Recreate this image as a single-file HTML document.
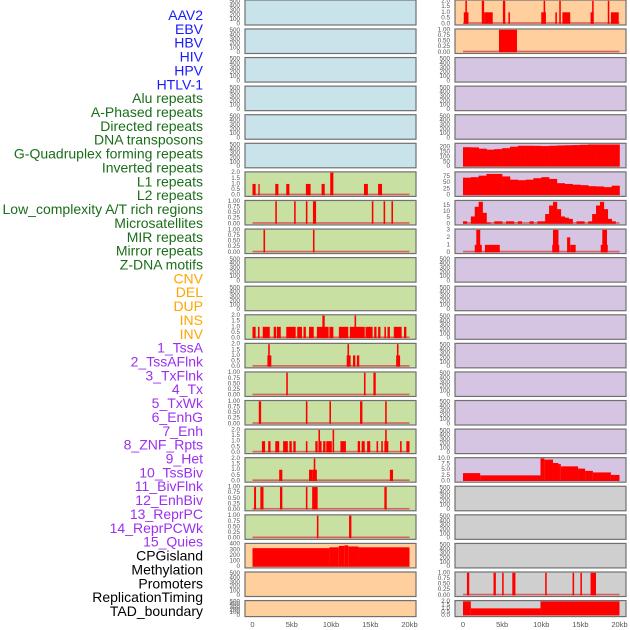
<!DOCTYPE html>
<html><head><meta charset="utf-8"><style>
html,body{margin:0;padding:0;background:#fff;width:630px;height:630px;overflow:hidden}
svg{display:block}
</style></head><body>
<svg id="chart" width="630" height="630" xmlns="http://www.w3.org/2000/svg" font-family="Liberation Sans, sans-serif"></svg>
<script>
const trackLabels=["AAV2","EBV","HBV","HIV","HPV","HTLV-1","Alu repeats","A-Phased repeats","Directed repeats","DNA transposons","G-Quadruplex forming repeats","Inverted repeats","L1 repeats","L2 repeats","Low_complexity A/T rich regions","Microsatellites","MIR repeats","Mirror repeats","Z-DNA motifs","CNV","DEL","DUP","INS","INV","1_TssA","2_TssAFlnk","3_TxFlnk","4_Tx","5_TxWk","6_EnhG","7_Enh","8_ZNF_Rpts","9_Het","10_TssBiv","11_BivFlnk","12_EnhBiv","13_ReprPC","14_ReprPCWk","15_Quies","CPGisland","Methylation","Promoters","ReplicationTiming","TAD_boundary"];
const labelGroups=[6,13,5,15,5];
const groupColors=["#1a1aff","#1a6e1a","#ffa500","#9b30f0","#000000"];
const xTicks=[0,5,10,15,20];
const xTickLabels=["0","5kb","10kb","15kb","20kb"];
const ticksEmpty=[0,100,200,300,400,500];
const ticks2=[0,0.5,1,1.5,2];
const ticks1=[0,0.25,0.5,0.75,1];
// segments: [startKb, endKb, value]
const segR0=[[0.1,0.7,1],[0.3,0.5,2],[2.4,2.7,2],[2.7,3.8,1],[5.1,5.4,2],[5.8,6.0,1],[10.0,10.6,1],[10.3,10.5,2],[11.8,12.0,1],[12.3,12.5,2],[12.7,13.7,1],[16.3,16.7,1],[16.5,16.7,2],[18.5,18.7,2],[18.9,19.9,1]];
const segR1=[[4.6,6.9,1]];
const binsR5=[200,198,185,175,180,190,205,215,215,214,212,215,218,220,222,225,228,228,228,228];
const segL6=[[0,0.4,1],[0.75,0.9,1],[2.9,3.3,1],[4.3,4.7,1],[6.8,7.4,1],[8.8,9.2,1],[9.9,10.3,2],[14.2,14.7,1],[16.0,16.5,1]];
const binsR6=[70,72,78,85,85,75,62,60,62,68,72,65,48,45,42,40,36,35,32,38];
const segL7=[[2.9,3.1,1],[5.3,5.5,1],[6.8,7.0,1],[7.7,8.1,1],[15.2,15.4,1],[16.7,16.9,1],[17.7,17.9,1]];
const binsR7=[2,0,6,14,18,9,1,0,2,2,0,2,2,0,2,0,0,2,0,2,2,8,15,18,12,6,5,4,0,2,2,0,2,8,15,18,12,4,2,0];
const segL8=[[1.4,1.6,1],[7.7,7.9,1]];
const segR8=[[1.5,2.4,1],[1.7,2.2,3],[2.8,4.7,1],[11.4,12.3,1],[11.5,12.2,3],[13.3,13.7,2],[13.7,14.4,1],[17.6,18.5,1],[17.8,18.4,3]];
const segL11=[[0,0.4,1],[0.7,0.9,1],[1.3,2.2,1],[2.7,3.0,1],[3.1,3.6,1],[4.3,5.5,1],[5.7,6.3,1],[6.5,6.8,1],[7.2,7.8,1],[8.2,9.7,1],[8.9,9.2,2],[9.8,10.3,1],[11.0,12.2,1],[12.4,14.3,1],[13.0,13.2,2],[14.4,15.3,1],[15.5,15.8,1],[16.0,16.3,1],[16.8,17.0,1],[17.2,17.5,1],[18.0,19.0,1],[19.3,19.6,1]];
const segL12=[[1.9,2.4,1],[2.0,2.2,2],[12.0,12.5,1],[12.1,12.3,2],[12.8,13.1,1],[13.3,13.6,1],[18.3,18.8,1],[18.4,18.6,2]];
const segL13=[[4.3,4.5,1],[14.2,14.4,1],[15.4,15.7,1]];
const segL14=[[0.8,1.1,1],[6.8,7.0,1],[9.8,10.0,1],[13.7,14.0,1],[16.9,17.1,1]];
const segL15=[[1.2,1.6,1],[2.0,2.3,1],[2.9,3.4,1],[3.9,4.5,1],[4.7,5.0,1],[5.2,5.5,1],[6.8,7.0,1],[8.0,8.3,1],[8.5,8.8,1],[8.4,8.6,2],[9.0,9.3,1],[9.4,10.1,1],[10.2,10.4,2],[11.2,11.9,1],[13.4,13.7,1],[13.9,14.3,1],[14.6,15.0,1],[15.8,16.0,1],[16.4,16.6,1],[16.8,17.3,1],[16.9,17.1,2],[18.8,19.0,1],[19.6,20.0,1]];
const segL16=[[3.4,3.8,1],[7.2,7.6,1],[7.6,8.2,1],[7.8,8.0,2],[17.5,17.9,1]];
const segR16=[[0,2.2,3.5],[2.2,9.9,2.5],[9.9,10.4,10],[10.4,11.5,9.5],[11.5,12.2,8],[12.2,12.5,7.5],[12.5,14.7,6.5],[14.7,15.6,5.5],[15.6,16.6,4.5],[16.6,18.9,3.8],[18.9,20,2.7]];
const segL17=[[0.2,0.45,1],[1.0,1.4,1],[3.5,3.8,1],[6.8,7.0,1],[7.6,8.3,1],[16.8,17.1,1]];
const segL18=[[8.2,8.4,1],[12.3,12.6,1]];
const segL19=[[0,9.8,330],[9.8,11.0,345],[11.0,11.7,370],[11.7,12.2,380],[12.2,13.5,360],[13.5,20,345]];
const segR20=[[0.5,0.8,1],[3.9,4.2,1],[5.0,5.2,1],[6.3,6.7,1],[10.5,10.7,1],[14.0,14.2,1],[15.0,15.2,1],[16.3,17.0,1]];
const segR21=[[0,1,2],[1,9.9,1],[9.9,20,2]];

const C={blue:"#c8e4ea",green:"#c8e0a2",peach:"#ffd09e",lav:"#d6c5e2",gray:"#cfcfcf"};
const E=(bg)=>({bg,ticks:ticksEmpty,ymax:520});
const rows=[
 [E(C.blue),{bg:C.peach,ticks:ticks2,fmt:1,ymax:2,segs:segR0}],
 [E(C.blue),{bg:C.peach,ticks:ticks1,fmt:2,ymax:1,segs:segR1}],
 [E(C.blue),E(C.lav)],[E(C.blue),E(C.lav)],[E(C.blue),E(C.lav)],
 [E(C.blue),{bg:C.lav,ticks:[0,50,100,150,200],fmt:0,ymax:232,bins:binsR5}],
 [{bg:C.green,ticks:ticks2,fmt:1,ymax:2,segs:segL6},{bg:C.lav,ticks:[0,25,50,75],fmt:0,ymax:90,bins:binsR6}],
 [{bg:C.green,ticks:ticks1,fmt:2,ymax:1,segs:segL7},{bg:C.lav,ticks:[0,5,10,15],fmt:0,ymax:18.5,bins:binsR7}],
 [{bg:C.green,ticks:ticks1,fmt:2,ymax:1,segs:segL8},{bg:C.lav,ticks:[0,1,2,3],fmt:0,ymax:3,segs:segR8}],
 [E(C.green),E(C.lav)],[E(C.green),E(C.lav)],
 [{bg:C.green,ticks:ticks2,fmt:1,ymax:2,segs:segL11},E(C.lav)],
 [{bg:C.green,ticks:ticks2,fmt:1,ymax:2,segs:segL12},E(C.lav)],
 [{bg:C.green,ticks:ticks1,fmt:2,ymax:1,segs:segL13},E(C.lav)],
 [{bg:C.green,ticks:ticks1,fmt:2,ymax:1,segs:segL14},E(C.lav)],
 [{bg:C.green,ticks:ticks2,fmt:1,ymax:2,segs:segL15},E(C.lav)],
 [{bg:C.green,ticks:ticks2,fmt:1,ymax:2,segs:segL16},{bg:C.lav,ticks:[0,2.5,5,7.5,10],fmt:1,ymax:10,segs:segR16}],
 [{bg:C.green,ticks:ticks1,fmt:2,ymax:1,segs:segL17},E(C.gray)],
 [{bg:C.green,ticks:ticks1,fmt:2,ymax:1,segs:segL18},E(C.gray)],
 [{bg:C.peach,ticks:[0,100,200,300,400],fmt:0,ymax:400,segs:segL19},E(C.gray)],
 [E(C.peach),{bg:C.gray,ticks:ticks1,fmt:2,ymax:1,segs:segR20}],
 [E(C.peach),{bg:C.gray,ticks:ticks2,fmt:1,ymax:2,segs:segR21}]
];
const svg=document.getElementById('chart');
const NS="http://www.w3.org/2000/svg";
function mk(tag,attrs,parent){const e=document.createElementNS(NS,tag);for(const k in attrs)e.setAttribute(k,attrs[k]);(parent||svg).appendChild(e);return e;}
// labels
let gi=0,cnt=0;
trackLabels.forEach((t,i)=>{
  while(cnt>=labelGroups[gi]){cnt-=labelGroups[gi];gi++;}
  cnt++;
  const el=mk('text',{x:203,y:15+i*13.86,'text-anchor':'end','dominant-baseline':'central','font-size':'14',fill:groupColors[gi]});
  el.textContent=t;
  
  
});
const cols=[{px:245,pw:171,x0:252.5,x1:409.5,tx:240},{px:455,pw:171,x0:463,x1:619.5,tx:450}];
const pitch=28.58;
rows.forEach((row,ri)=>{
  const top=ri===0?0:0.4+ri*pitch;
  const h=ri===21?16:(ri===0?25:24.5);
  row.forEach((p,ci)=>{
    const c=cols[ci];
    const g=mk('g',{});
    
    
    const bot=top+h-1.2, ytop=top+0.8;
    const ys=v=>bot-(v/p.ymax)*(bot-ytop);
    const xs=k=>c.x0+(k/20)*(c.x1-c.x0);
    const r=mk('rect',{x:c.px,y:top,width:c.pw,height:h,fill:p.bg,stroke:'#707070','stroke-width':1.2},g);
    
    
    p.ticks.forEach(t=>{
      const tl=mk('text',{x:c.tx,y:ys(t),'text-anchor':'end','dominant-baseline':'central','font-size':'6.3',fill:'#555'},g);
      tl.textContent=p.fmt===undefined?String(t):t.toFixed(p.fmt);
      
      
    });
    if(p.segs||p.bins){
      const bl=mk('rect',{x:xs(0),y:bot-1.6,width:xs(20)-xs(0),height:1.6,fill:'#d86060'},g);
      
      
    }
    if(p.segs){p.segs.forEach(s=>{
      const x=xs(s[0]),w=Math.max(xs(s[1])-x,1.3),y=ys(s[2]);
      const b=mk('rect',{x:x,y:y,width:w,height:bot-y,fill:'#ff0000'},g);
      
      
    });}
    if(p.bins){const bw=20/p.bins.length;p.bins.forEach((v,i)=>{
      const x=xs(i*bw),w=xs((i+1)*bw)-x+0.3,y=ys(v);
      const b=mk('rect',{x:x,y:y,width:w,height:bot-y,fill:'#ff0000'},g);
      
      
    });}
  });
});
cols.forEach(c=>{
  xTicks.forEach((k,i)=>{
    const t=mk('text',{x:c.x0+(k/20)*(c.x1-c.x0),y:627,'text-anchor':'middle','font-size':'7.5',fill:'#555'});
    t.textContent=xTickLabels[i];
    
    
  });
});
</script>
</body></html>
